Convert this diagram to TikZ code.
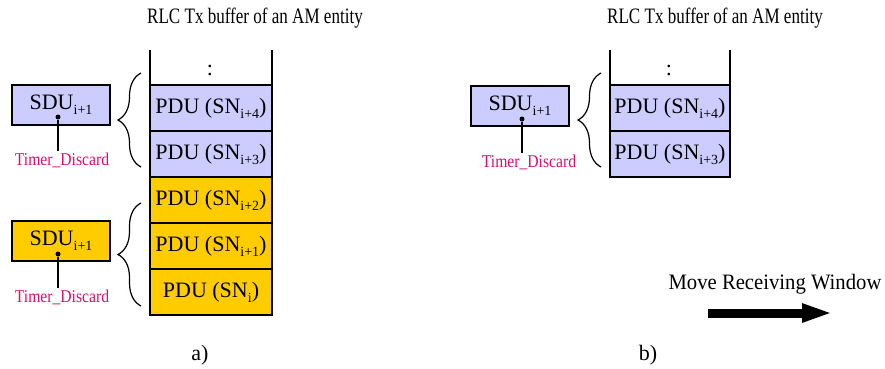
\documentclass[tikz,border=0pt]{standalone}
\usepackage{fontspec,graphicx}
\setmainfont{Liberation Serif}
\usetikzlibrary{arrows.meta,positioning,decorations.pathreplacing}
\definecolor{pdulav}{RGB}{204,204,255}
\definecolor{pduyel}{RGB}{255,204,0}
\definecolor{tmrpink}{RGB}{214,16,110}
\newcommand{\sidx}[1]{\raisebox{-5pt}{\fontsize{14}{14}\selectfont #1}}

\begin{document}
\begin{tikzpicture}[x=1pt,y=-1pt,line width=1.6pt,
  every node/.style={font=\fontsize{22}{24}\selectfont},
  pdu/.style={draw,minimum width=122pt,minimum height=46pt,inner sep=0pt,outer sep=0pt},
  sdu/.style={draw,minimum width=98pt,minimum height=40pt,inner sep=0pt,outer sep=0pt},
  lav/.style={fill=pdulav},
  yel/.style={fill=pduyel},
  tmr/.style={text=tmrpink,inner sep=1pt,font=\fontsize{18}{20}\selectfont},
  dot/.style={circle,fill,inner sep=0pt,minimum size=5pt},
  brc/.style={decorate,decoration={brace,amplitude=23pt},line width=1.2pt}]
\useasboundingbox (0,0) rectangle (885,368);

% a) left buffer
\node (ttla) at (255,18) {\scalebox{0.775}[1]{RLC Tx buffer of an AM entity}};
\node[pdu,lav] (a4) at (211,108) {PDU (SN\sidx{i+4})};
\node[pdu,lav,below=0pt of a4] (a3) {PDU (SN\sidx{i+3})};
\node[pdu,yel,below=0pt of a3] (a2) {PDU (SN\sidx{i+2})};
\node[pdu,yel,below=0pt of a2] (a1) {PDU (SN\sidx{i+1})};
\node[pdu,yel,below=0pt of a1] (a0) {PDU (SN\sidx{i})};
\draw (a4.north west) -- ++(0,-35);
\draw (a4.north east) -- ++(0,-35);
\node (dta) at (210,70) {:};

\node[sdu,lav] (sa1) at (61,105) {SDU\sidx{i+1}};
\node[dot] (da1) at (58,117) {};
\node[tmr] (ta1) at (62,160) {\scalebox{0.87}[1]{Timer\_Discard}};
\draw (da1) -- (da1 |- ta1.north);
\draw[brc] (141,167) -- (141,73);

\node[sdu,yel] (sa2) at (61,241) {SDU\sidx{i+1}};
\node[dot] (da2) at (58,254) {};
\node[tmr] (ta2) at (62,297) {\scalebox{0.87}[1]{Timer\_Discard}};
\draw (da2) -- (da2 |- ta2.north);
\draw[brc] (141,306) -- (141,203);

\node (lba) at (200,355) {a)};

% b) right buffer
\node (ttlb) at (715,18) {\scalebox{0.775}[1]{RLC Tx buffer of an AM entity}};
\node[pdu,lav,minimum width=120pt] (b4) at (670,108) {PDU (SN\sidx{i+4})};
\node[pdu,lav,minimum width=120pt,below=0pt of b4] (b3) {PDU (SN\sidx{i+3})};
\draw (b4.north west) -- ++(0,-35);
\draw (b4.north east) -- ++(0,-35);
\node (dtb) at (669,70) {:};

\node[sdu,lav] (sb1) at (520,106) {SDU\sidx{i+1}};
\node[dot] (db1) at (522,119) {};
\node[tmr] (tb1) at (529,162) {\scalebox{0.87}[1]{Timer\_Discard}};
\draw (db1) -- (db1 |- tb1.north);
\draw[brc] (601,167) -- (601,73);

\node (mvw) at (775,284) {\scalebox{0.94}[1]{Move Receiving Window}};
\coordinate (mvs) at (708,313);
\coordinate (mve) at (833,313);
\draw[line width=9pt,-{Triangle[length=31pt,width=17pt]}] (mvs) -- (mve);

\node (lbb) at (648,355) {b)};
\end{tikzpicture}
\end{document}
